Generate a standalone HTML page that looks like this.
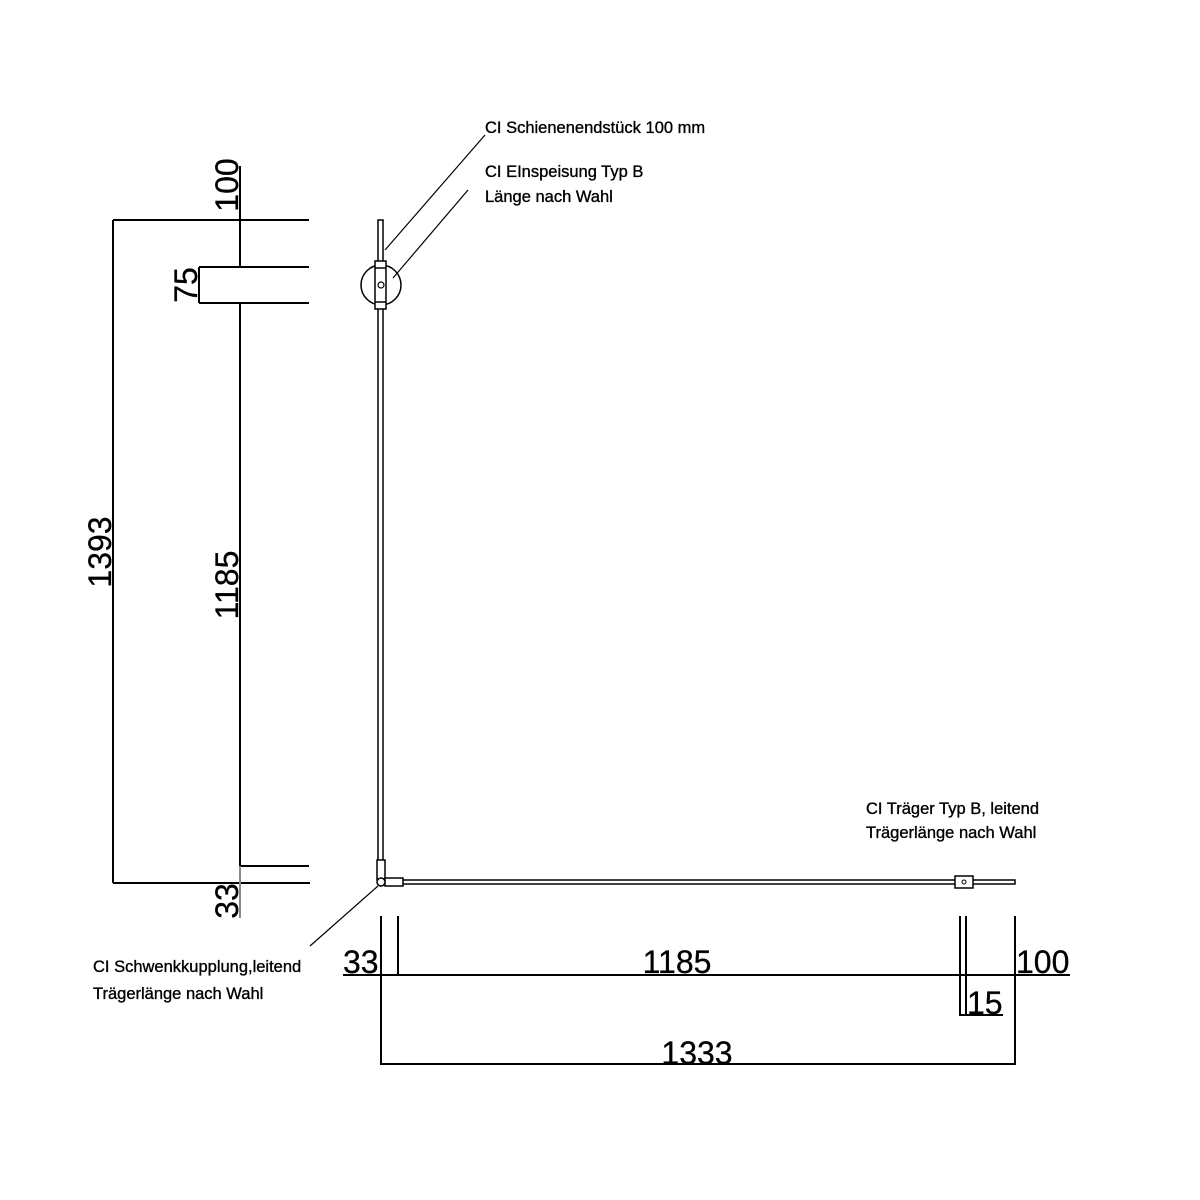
<!DOCTYPE html>
<html><head><meta charset="utf-8"><style>body{margin:0;background:#fff}svg{display:block}</style></head><body>
<svg width="1200" height="1200" viewBox="0 0 1200 1200" xmlns="http://www.w3.org/2000/svg" font-family="Liberation Sans, Arial, sans-serif">
<g stroke="#000" stroke-width="2" fill="none">
<line x1="113" y1="220" x2="113" y2="883"/>
<line x1="113" y1="220" x2="309" y2="220"/>
<line x1="113" y1="883" x2="310" y2="883"/>
<line x1="240" y1="166" x2="240" y2="267"/>
<line x1="240" y1="303" x2="240" y2="866"/>
<line x1="199" y1="267" x2="309" y2="267"/>
<line x1="199" y1="303" x2="309" y2="303"/>
<line x1="199" y1="267" x2="199" y2="303"/>
<line x1="240" y1="866" x2="309" y2="866"/>
<line x1="240" y1="866" x2="240" y2="918" stroke="#888"/>
<rect x="378" y="220" width="5" height="660" stroke-width="1.5"/>
<circle cx="381" cy="285" r="20" stroke-width="1.5"/>
<rect x="375" y="261" width="11" height="48" fill="#fff" stroke-width="1.5"/>
<line x1="375" y1="268" x2="386" y2="268" stroke-width="1.5"/>
<line x1="375" y1="302" x2="386" y2="302" stroke-width="1.5"/>
<circle cx="381" cy="285" r="3" stroke-width="1.2"/>
<rect x="383" y="880" width="632" height="4" stroke-width="1.5"/>
<rect x="377" y="860" width="8" height="20" fill="#fff" stroke-width="1.5"/>
<rect x="385" y="878" width="18" height="8" fill="#fff" stroke-width="1.5"/>
<circle cx="381" cy="882" r="4" fill="#fff" stroke-width="1.5"/>
<rect x="955" y="876" width="18" height="12" fill="#fff" stroke-width="1.5"/>
<circle cx="964" cy="882" r="2" stroke-width="1"/>
<line x1="385" y1="250" x2="485" y2="135" stroke-width="1.2"/>
<line x1="393" y1="278" x2="468" y2="190" stroke-width="1.2"/>
<line x1="378" y1="886" x2="310" y2="946" stroke-width="1.2"/>
<line x1="381" y1="916" x2="381" y2="1065"/>
<line x1="398" y1="916" x2="398" y2="975"/>
<line x1="960" y1="916" x2="960" y2="1016"/>
<line x1="966" y1="916" x2="966" y2="1016"/>
<line x1="1015" y1="916" x2="1015" y2="1065"/>
<line x1="343" y1="975" x2="1070" y2="975"/>
<line x1="960" y1="1015" x2="1003" y2="1015"/>
<line x1="381" y1="1064" x2="1015" y2="1064"/>
</g>
<g font-size="32" fill="#000" stroke="#000" stroke-width="0.3">
<text x="343" y="973">33</text>
<text x="677" y="973" text-anchor="middle">1185</text>
<text x="1016" y="973">100</text>
<text x="967" y="1014">15</text>
<text x="697" y="1064" text-anchor="middle">1333</text>
<text transform="translate(238,185) rotate(-90)" text-anchor="middle">100</text>
<text transform="translate(197,285) rotate(-90)" text-anchor="middle">75</text>
<text transform="translate(111,552) rotate(-90)" text-anchor="middle">1393</text>
<text transform="translate(238,585) rotate(-90)" text-anchor="middle">1185</text>
<text transform="translate(238,901) rotate(-90)" text-anchor="middle">33</text>
</g>
<g font-size="16.5" fill="#000" stroke="#000" stroke-width="0.35">
<text x="485" y="133">CI Schienenendstück 100 mm</text>
<text x="485" y="177">CI EInspeisung Typ B</text>
<text x="485" y="202">Länge nach Wahl</text>
<text x="866" y="814">CI Träger Typ B, leitend</text>
<text x="866" y="838">Trägerlänge nach Wahl</text>
<text x="93" y="972">CI Schwenkkupplung,leitend</text>
<text x="93" y="999">Trägerlänge nach Wahl</text>
</g>
</svg>
</body></html>
